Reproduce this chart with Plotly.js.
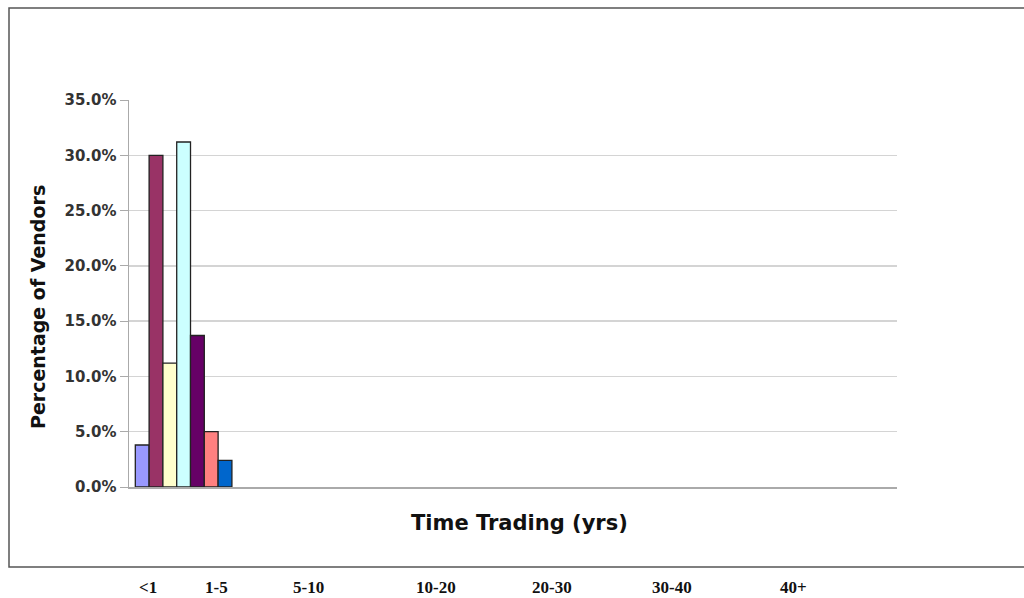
<!DOCTYPE html>
<html>
<head>
<meta charset="utf-8">
<script src="https://cdn.plot.ly/plotly-3.0.1.min.js"></script>
<style>html,body{margin:0;padding:0;background:#fff;}#chart{width:1024px;height:598px;}</style>
</head>
<body>
<div id="chart"></div>
<script>
// Data
var categories = ['<1', '1-5', '5-10', '10-20', '20-30', '30-40', '40+'];
var percentages = [0.038, 0.300, 0.112, 0.312, 0.137, 0.050, 0.024];
var barColors = ['#9999FF', '#993366', '#FFFFCC', '#CCFFFF', '#660066', '#FF8080', '#0066CC'];
var yTickVals = [0, 0.05, 0.10, 0.15, 0.20, 0.25, 0.30, 0.35];

// layout helpers (pixel -> paper)
var L = 129, R = 127, T = 100, B = 111, W = 1024, H = 598;
var PW = W - L - R, PH = H - T - B;
function px(x) { return (x - L) / PW; }
function py(y) { return (H - B - y) / PH; }

var labelX = [148, 216, 308, 436, 552, 672, 793];

var annotations = categories.map(function (c, i) {
  return {
    text: c, xref: 'paper', yref: 'paper', x: px(labelX[i]), y: py(587),
    xanchor: 'center', yanchor: 'middle', showarrow: false,
    font: {family: 'Liberation Serif, serif', size: 17, color: '#111', weight: 'bold'}
  };
});
annotations.push({
  text: '<b>Time Trading (yrs)</b>', xref: 'paper', yref: 'paper', x: px(519), y: py(523),
  xanchor: 'center', yanchor: 'middle', showarrow: false,
  font: {family: 'DejaVu Sans, sans-serif', size: 21, color: '#111'}
});
annotations.push({
  text: '<b>Percentage of Vendors</b>', xref: 'paper', yref: 'paper', x: px(38), y: py(307),
  xanchor: 'center', yanchor: 'middle', showarrow: false, textangle: -90,
  font: {family: 'DejaVu Sans, sans-serif', size: 19, color: '#111'}
});

var trace = {
  type: 'bar',
  x: categories,
  y: percentages,
  marker: {color: barColors, line: {color: '#222', width: 1.3}},
  hoverinfo: 'x+y'
};

var layout = {
  width: W, height: H,
  margin: {l: L, r: R, t: T, b: B, pad: 0},
  paper_bgcolor: '#fff', plot_bgcolor: '#fff',
  showlegend: false,
  bargap: 0,
  xaxis: {
    type: 'category',
    range: [-0.957, 54.69],
    showticklabels: false, ticks: '', showgrid: false, zeroline: false,
    showline: true, linecolor: '#aaa', linewidth: 1.5
  },
  yaxis: {
    range: [0, 0.35],
    tickvals: yTickVals,
    tickformat: '.1%',
    ticks: 'outside', ticklen: 8, tickcolor: '#aaa', tickwidth: 1,
    showgrid: true, gridcolor: '#d4d4d4', gridwidth: 1.5,
    zeroline: false,
    showline: true, linecolor: '#aaa', linewidth: 1.5,
    tickfont: {family: 'DejaVu Sans, sans-serif', size: 15, color: '#333', weight: 'bold'}
  },
  shapes: [{
    type: 'rect', xref: 'paper', yref: 'paper',
    x0: px(9), x1: px(1030), y0: py(567), y1: py(8),
    line: {color: '#555', width: 1.5}, fillcolor: 'rgba(0,0,0,0)', layer: 'below'
  }],
  annotations: annotations
};

Plotly.newPlot('chart', [trace], layout, {displayModeBar: false, staticPlot: true});
</script>
</body>
</html>
